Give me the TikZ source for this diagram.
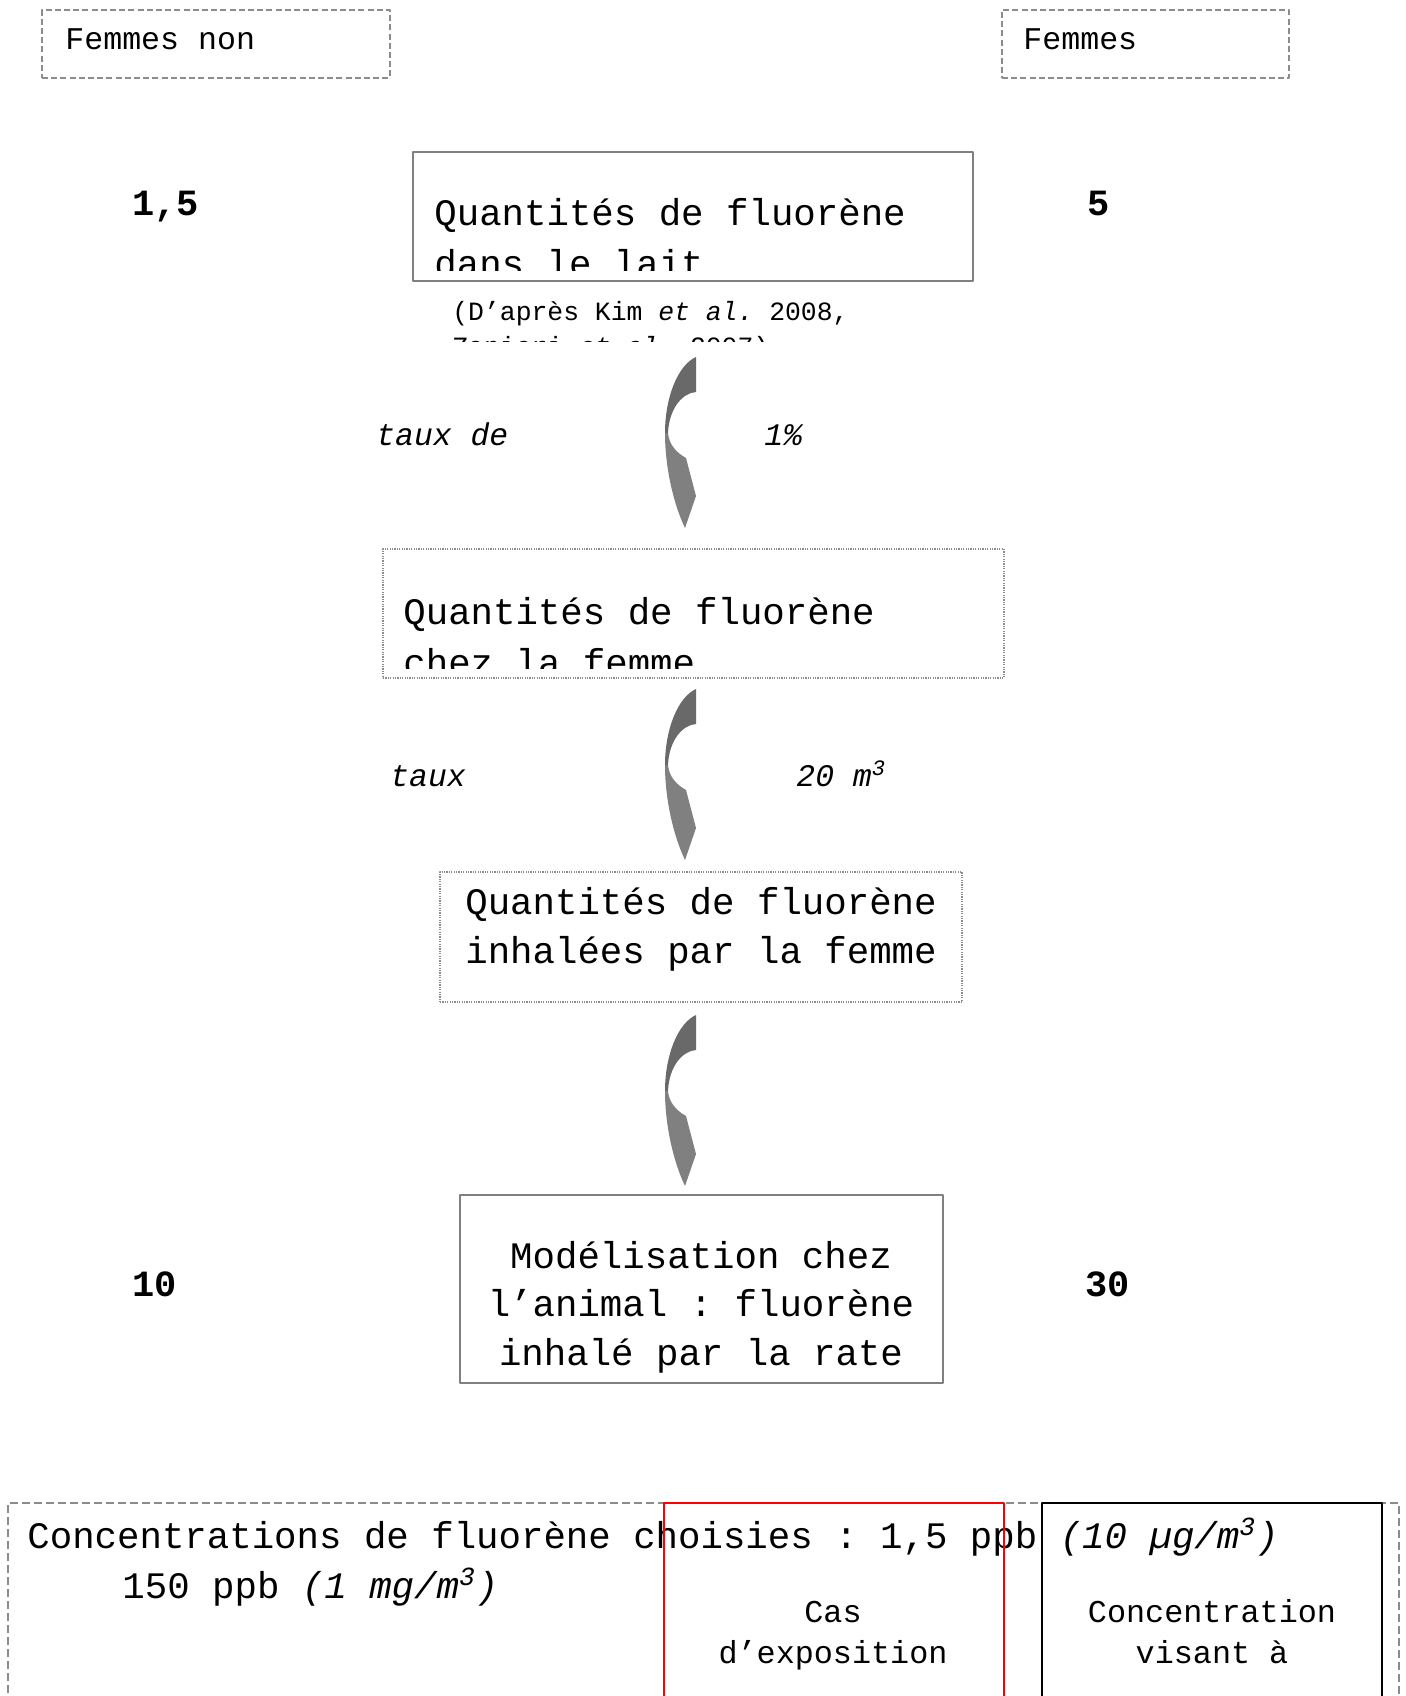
\documentclass[tikz,border=0pt]{standalone}
\usepackage{fontspec}
\setmainfont{Liberation Mono}
\frenchspacing
\usetikzlibrary{calc}

\tikzset{
  fleche/.pic={
    \fill[black!59] (0,0) .. controls (-18,8) and (-31,40) .. (-31,76) -- (-28,76) .. controls (-27,52) and (-14,36) .. (0,35) -- cycle;
    \fill[black!50] (-31,76) .. controls (-31,112) and (-22,148) .. (-11,171) -- (0,139) -- (-10,101) .. controls (-19,96) and (-27,88) .. (-28,76) -- cycle;
  }
}

\begin{document}
\begin{tikzpicture}[line cap=round,line join=round,x=0.5pt,y=-0.5pt,
  cadre/.style={inner sep=0pt,outer sep=0pt,anchor=north west},
  boite/.style={cadre,draw=black!50,line width=0.8pt},
  tirets/.style={cadre,draw=black!45,line width=0.8pt,line cap=butt,dash pattern=on 3pt off 1.6pt},
  points/.style={cadre,draw=black!45,line width=0.6pt,line cap=butt,dash pattern=on 0.6pt off 0.6pt},
  grand/.style={font=\fontsize{18.7}{25.5}\selectfont,anchor=base west,inner sep=0pt},
  moyen/.style={font=\fontsize{15.9}{20}\selectfont,anchor=base,inner sep=0pt},
  petit/.style={font=\fontsize{15.8}{20}\selectfont,anchor=base west,inner sep=0pt},
  cite/.style={font=\fontsize{13.2}{18}\selectfont,anchor=base west,inner sep=0pt},
  lib/.style={font=\fontsize{15.7}{20}\selectfont\itshape,anchor=base west,inner sep=0pt},
  nombre/.style={font=\fontsize{18.5}{22}\selectfont\bfseries,anchor=base west,inner sep=0pt}]
\useasboundingbox (0,0) rectangle (1405,1696);
\clip (0,0) rectangle (1405,1696);

% haut
\node[tirets,minimum width=174pt,minimum height=34pt] (nonfum) at (42,10) {};
\node[tirets,minimum width=143.5pt,minimum height=34pt] (fum) at (1002,10) {};
\node[petit] (tnonfum) at (65,50) {Femmes non};
\node[petit] (tfum) at (1023,50) {Femmes};
\node[nombre] (v1) at (132,216) {1,5};
\node[nombre] (v2) at (1087,216) {5};

% lait
\node[boite,minimum width=280pt,minimum height=64.5pt] (lait) at (413,152) {};
\begin{scope}
  \clip (lait.north west) rectangle ($(lait.south east)+(0,-11)$);
  \node[grand] (tlait) at (434,226) {Quantités de fluorène};
  \node[grand] (tlaitb) at (434,277) {dans le lait};
\end{scope}
\begin{scope}
  \clip (0,290) rectangle (1405,341);
  \node[cite] (ref) at (452,321) {(D’après Kim \textit{et al.} 2008,};
  \node[cite] (refb) at (452,355) {Zanieri \textit{et al.} 2007)};
\end{scope}

\pic at (696,357) {fleche};
\node[lib] (taux1) at (376,445) {taux de};
\node[lib] (val1) at (764,445) {1\%};

% femme
\node[points,minimum width=310.5pt,minimum height=64.5pt] (femme) at (383,549) {};
\begin{scope}
  \clip (femme.north west) rectangle ($(femme.south east)+(0,-10)$);
  \node[grand] (tfemme) at (403,624) {Quantités de fluorène};
  \node[grand] (tfemmeb) at (403,675) {chez la femme};
\end{scope}

\pic at (696,689) {fleche};
\node[lib] (taux2) at (390,786) {taux};
\node[lib] (val2) at (796,786) {20 m\textsuperscript{3}};

% inhalation
\node[points,minimum width=261pt,minimum height=65pt] (inhal) at (440,872) {};
\node[grand,anchor=base] (tinhal) at (701,914) {Quantités de fluorène};
\node[grand,anchor=base] (tinhalb) at (701,963) {inhalées par la femme};

\pic at (696,1015) {fleche};

% animal
\node[boite,minimum width=241.5pt,minimum height=94pt] (animal) at (460,1195) {};
\node[grand,anchor=base] (tanim) at (701,1268) {Modélisation chez};
\node[grand,anchor=base] (tanimb) at (701,1316) {l’animal : fluorène};
\node[grand,anchor=base] (tanimc) at (701,1365) {inhalé par la rate};
\node[nombre] (v3) at (132,1296) {10};
\node[nombre] (v4) at (1085,1296) {30};

% concentrations
\node[tirets,minimum width=695.5pt,minimum height=150pt,dash pattern=on 4pt off 2pt] (conc) at (8,1503) {};
\node[grand] (tconc) at (27,1548) {Concentrations de fluorène choisies : 1,5 ppb \textit{(10 µg/m\textsuperscript{3})}};
\node[grand] (tconcb) at (122,1598) {150 ppb \textit{(1 mg/m\textsuperscript{3})}};
\node[cadre,draw=red,line width=1pt,minimum width=170pt,minimum height=150pt] (cas) at (664,1503) {};
\node[cadre,draw=black,line width=1.2pt,minimum width=170pt,minimum height=150pt] (vise) at (1042,1503) {};
\node[moyen] (tcas) at (833,1622) {Cas};
\node[moyen] (tcasb) at (833,1663) {d’exposition};
\node[moyen] (tvise) at (1212,1622) {Concentration};
\node[moyen] (tviseb) at (1212,1663) {visant à};
\end{tikzpicture}
\end{document}
